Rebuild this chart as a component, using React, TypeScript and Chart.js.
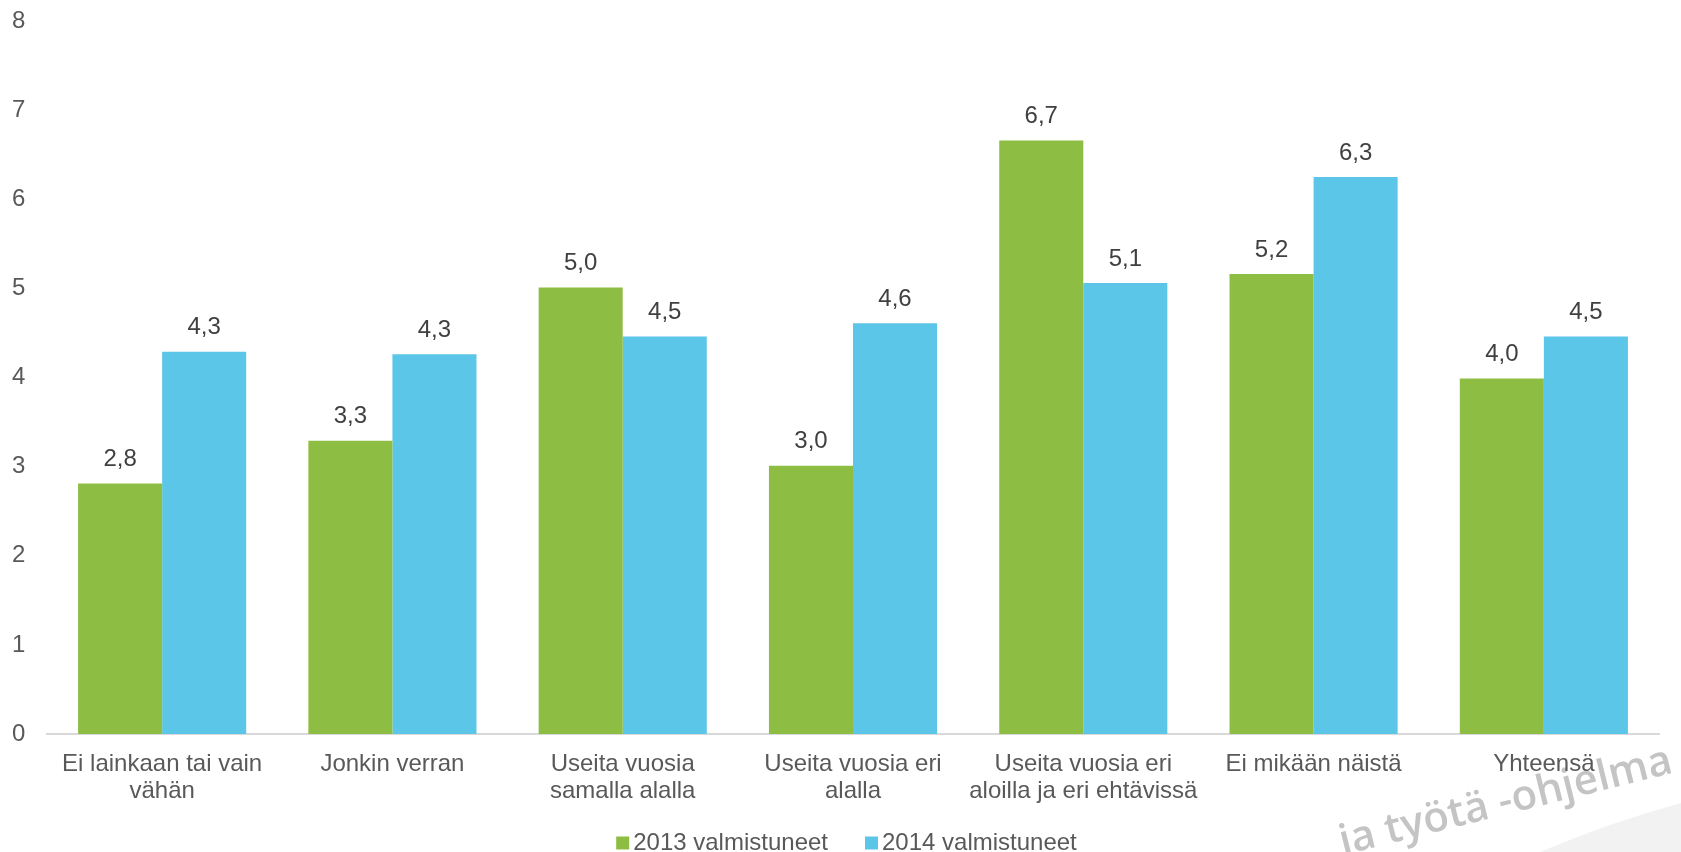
import React, { useEffect, useRef } from "react";
import { Chart, registerables } from "chart.js";

Chart.register(...registerables);

const categories: (string | string[])[] = [
  ["Ei lainkaan tai vain", "vähän"],
  "Jonkin verran",
  ["Useita vuosia", "samalla alalla"],
  ["Useita vuosia eri", "alalla"],
  ["Useita vuosia eri", "aloilla ja eri ehtävissä"],
  "Ei mikään näistä",
  "Yhteensä",
];

const seriesNames = ["2013 valmistuneet", "2014 valmistuneet"];
const values2013 = [2.81, 3.29, 5.01, 3.01, 6.66, 5.16, 3.99];
const values2014 = [4.29, 4.26, 4.46, 4.61, 5.06, 6.25, 4.46];
const yTicks = [0, 1, 2, 3, 4, 5, 6, 7, 8];

const GREEN = "#8DBE43";
const BLUE = "#5BC6E8";
const FONT = "'Liberation Sans', Arial, sans-serif";

const fmt = (v: number) => v.toFixed(1).replace(".", ",");

const watermarkPlugin = {
  id: "watermark",
  beforeDraw(chart: any) {
    const ctx = chart.ctx;
    const w = chart.width;
    const h = chart.height;
    ctx.save();
    ctx.fillStyle = "#F2F2F2";
    ctx.beginPath();
    ctx.moveTo(w - 141, h);
    ctx.quadraticCurveTo(w - 70, h - 30, w, h - 49);
    ctx.lineTo(w, h);
    ctx.closePath();
    ctx.fill();
    ctx.translate(1343, 855);
    ctx.rotate((-14 * Math.PI) / 180);
    ctx.font = "600 42px 'Open Sans', sans-serif";
    ctx.fillStyle = "#C4C4C4";
    ctx.textAlign = "left";
    ctx.textBaseline = "alphabetic";
    ctx.fillText("ja työtä -ohjelma", 0, 0);
    ctx.restore();
  },
};

const dataLabelPlugin = {
  id: "dataLabels",
  afterDatasetsDraw(chart: any) {
    const ctx = chart.ctx;
    ctx.save();
    ctx.font = `24px ${FONT}`;
    ctx.fillStyle = "#404040";
    ctx.textAlign = "center";
    ctx.textBaseline = "middle";
    chart.data.datasets.forEach((ds: any, i: number) => {
      const meta = chart.getDatasetMeta(i);
      meta.data.forEach((el: any, j: number) => {
        ctx.fillText(fmt(ds.data[j]), el.x, el.y - 24);
      });
    });
    ctx.restore();
  },
};

const legendPlugin = {
  id: "customLegend",
  afterDraw(chart: any) {
    const ctx = chart.ctx;
    ctx.save();
    const fontSize = 24;
    ctx.font = `${fontSize}px ${FONT}`;
    const box = 13;
    const gapText = 4;
    const gapItem = 37;
    const items = chart.data.datasets.map((ds: any) => ({
      label: ds.label,
      color: ds.backgroundColor,
      w: box + gapText + ctx.measureText(ds.label).width,
    }));
    const total =
      items.reduce((s: number, it: any) => s + it.w, 0) +
      gapItem * (items.length - 1);
    let x = (chart.width - total) / 2 + 6;
    const yc = 843;
    ctx.textBaseline = "middle";
    ctx.textAlign = "left";
    items.forEach((it: any) => {
      ctx.fillStyle = it.color;
      ctx.fillRect(x, yc - box / 2, box, box);
      ctx.fillStyle = "#595959";
      ctx.fillText(it.label, x + box + gapText, yc);
      x += it.w + gapItem;
    });
    ctx.restore();
  },
};

export default function App() {
  const ref = useRef<HTMLCanvasElement>(null);

  useEffect(() => {
    document.body.style.margin = "0";
    const canvas = ref.current;
    if (!canvas) return;
    const chart = new Chart(canvas, {
      type: "bar",
      data: {
        labels: categories,
        datasets: [
          {
            label: seriesNames[0],
            data: values2013,
            backgroundColor: GREEN,
            borderWidth: 0,
          },
          {
            label: seriesNames[1],
            data: values2014,
            backgroundColor: BLUE,
            borderWidth: 0,
          },
        ],
      },
      options: {
        animation: false,
        responsive: false,
        devicePixelRatio: 1,
        layout: { padding: { top: 21, right: 22, bottom: 0, left: 12 } },
        datasets: {
          bar: { barPercentage: 1, categoryPercentage: 0.73 },
        },
        plugins: {
          legend: { display: false },
          tooltip: { enabled: false },
          title: { display: false },
        },
        scales: {
          x: {
            grid: { display: false, drawTicks: false },
            border: { display: true, color: "#D9D9D9", width: 2 },
            ticks: {
              color: "#595959",
              font: { family: FONT, size: 24, lineHeight: 1.125 },
              padding: 17,
              maxRotation: 0,
              autoSkip: false,
            },
            afterFit(scale: any) {
              scale.height = 118;
            },
          },
          y: {
            min: 0,
            max: 8,
            afterBuildTicks(scale: any) {
              scale.ticks = yTicks.map((v) => ({ value: v }));
            },
            grid: { display: false, drawTicks: false },
            border: { display: false },
            ticks: {
              color: "#595959",
              font: { family: FONT, size: 24 },
              padding: 0,
              crossAlign: "far",
            },
            afterFit(scale: any) {
              scale.width = 35;
            },
          },
        },
      },
      plugins: [watermarkPlugin, dataLabelPlugin, legendPlugin],
    });
    return () => chart.destroy();
  }, []);

  return (
    <div style={{ width: 1681, height: 852, background: "#fff" }}>
      <canvas ref={ref} width={1681} height={852} style={{ display: "block" }} />
    </div>
  );
}
